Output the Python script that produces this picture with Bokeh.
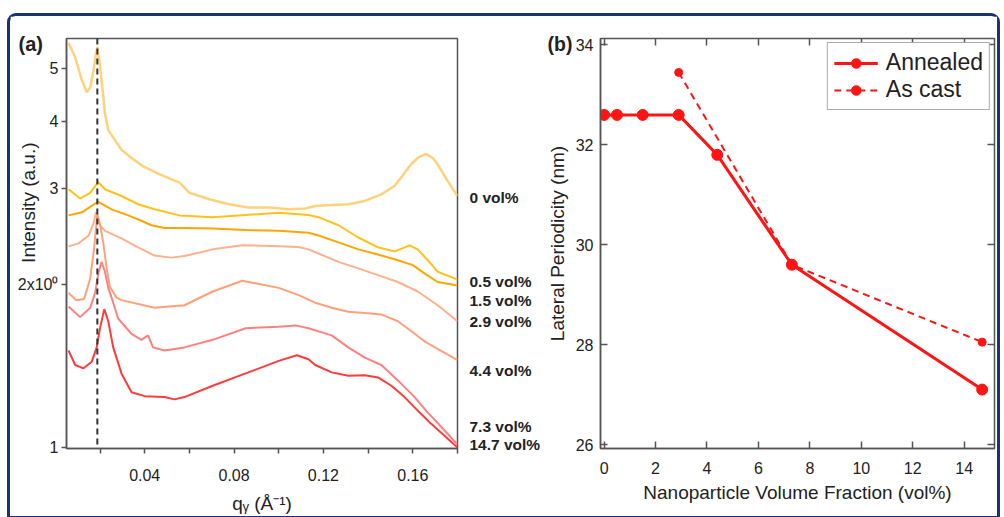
from bokeh.plotting import figure
from bokeh.models import (LinearAxis, LogAxis, FixedTicker, Span, Legend,
                          LegendItem, Range1d, Title)
from bokeh.layouts import row
from bokeh.embed import file_html
from bokeh.resources import INLINE

FONT = "Liberation Sans"

# ---------------- panel (a): intensity vs q_y ----------------
q_0 = [0.0059, 0.0089, 0.0119, 0.0141, 0.0156, 0.0171, 0.0182, 0.0188, 0.0197,
       0.0207, 0.0215, 0.0222, 0.0237, 0.0267, 0.0296, 0.0341, 0.0393, 0.0467,
       0.0556, 0.0600, 0.0689, 0.0778, 0.0867, 0.0956, 0.1044, 0.1119, 0.1163,
       0.1237, 0.1311, 0.1385, 0.1459, 0.1519, 0.1563, 0.1592, 0.1622, 0.1659,
       0.1689, 0.1711, 0.1756, 0.1800]
I_0 = [5.58, 5.24, 4.75, 4.52, 4.62, 4.96, 5.32, 5.48, 5.17,
       4.75, 4.43, 4.13, 3.85, 3.69, 3.54, 3.42, 3.30, 3.19,
       3.08, 2.95, 2.87, 2.81, 2.77, 2.77, 2.75, 2.76, 2.79,
       2.80, 2.81, 2.85, 2.93, 3.04, 3.21, 3.33, 3.42, 3.48,
       3.42, 3.33, 3.10, 2.91]

q_05 = [0.0059, 0.0111, 0.0156, 0.0192, 0.0222, 0.0296, 0.0370, 0.0444, 0.0556,
        0.0704, 0.0852, 0.1000, 0.1133, 0.1178, 0.1267, 0.1356, 0.1444, 0.1519,
        0.1585, 0.1622, 0.1667, 0.1711, 0.1800]
I_05 = [2.995, 2.88, 2.95, 3.09, 2.995, 2.91, 2.81, 2.75, 2.68,
        2.66, 2.685, 2.71, 2.685, 2.66, 2.57, 2.44, 2.34, 2.30,
        2.36, 2.32, 2.215, 2.11, 2.04]

q_15 = [0.0059, 0.0119, 0.0190, 0.0252, 0.0326, 0.0385, 0.0430, 0.0489, 0.0578,
        0.0704, 0.0852, 0.1000, 0.1133, 0.1178, 0.1267, 0.1356, 0.1444, 0.1533,
        0.1600, 0.1652, 0.1711, 0.1800]
I_15 = [2.68, 2.715, 2.84, 2.75, 2.68, 2.62, 2.57, 2.54, 2.54,
        2.535, 2.52, 2.51, 2.49, 2.46, 2.39, 2.32, 2.27, 2.215,
        2.17, 2.095, 2.02, 1.99]

q_29 = [0.0059, 0.0104, 0.0149, 0.0172, 0.0182, 0.0200, 0.0222, 0.0296, 0.0370,
        0.0444, 0.0519, 0.0578, 0.0704, 0.0837, 0.0970, 0.1089, 0.1133, 0.1178,
        0.1267, 0.1356, 0.1444, 0.1533, 0.1622, 0.1711, 0.1800]
I_29 = [2.35, 2.38, 2.46, 2.60, 2.715, 2.57, 2.51, 2.43, 2.34,
        2.26, 2.24, 2.255, 2.32, 2.36, 2.354, 2.344, 2.32, 2.28,
        2.20, 2.14, 2.08, 2.02, 1.94, 1.83, 1.71]

q_44 = [0.0059, 0.0093, 0.0129, 0.0156, 0.0173, 0.0188, 0.0200, 0.0215, 0.0230,
        0.0244, 0.0274, 0.0296, 0.0444, 0.0578, 0.0704, 0.0837, 0.1000, 0.1089,
        0.1163, 0.1237, 0.1311, 0.1385, 0.1459, 0.1533, 0.1592, 0.1652, 0.1711,
        0.1800]
I_44 = [1.93, 1.87, 1.88, 2.05, 2.32, 2.69, 2.58, 2.38, 2.14,
        1.98, 1.89, 1.87, 1.81, 1.83, 1.94, 2.03, 1.97, 1.91,
        1.85, 1.81, 1.78, 1.77, 1.76, 1.71, 1.64, 1.57, 1.52,
        1.45]

q_73 = [0.0059, 0.0111, 0.0156, 0.0178, 0.0193, 0.0207, 0.0222, 0.0237, 0.0259,
        0.0281, 0.0341, 0.0385, 0.0415, 0.0437, 0.0489, 0.0578, 0.0704, 0.0852,
        0.1000, 0.1074, 0.1133, 0.1237, 0.1311, 0.1385, 0.1459, 0.1533, 0.1607,
        0.1667, 0.1711, 0.1800]
I_73 = [1.82, 1.74, 1.81, 1.93, 2.10, 2.20, 2.11, 1.97, 1.85,
        1.73, 1.62, 1.58, 1.61, 1.53, 1.51, 1.53, 1.58, 1.66,
        1.67, 1.68, 1.66, 1.61, 1.53, 1.465, 1.42, 1.33, 1.24,
        1.16, 1.11, 1.013]

q_147 = [0.0059, 0.0089, 0.0126, 0.0163, 0.0185, 0.0200, 0.0219, 0.0237, 0.0259,
         0.0296, 0.0341, 0.0400, 0.0489, 0.0533, 0.0578, 0.0704, 0.0852, 0.1000,
         0.1081, 0.1133, 0.1163, 0.1237, 0.1311, 0.1385, 0.1444, 0.1504, 0.1563,
         0.1622, 0.1681, 0.1800]
I_147 = [1.51, 1.42, 1.40, 1.44, 1.53, 1.66, 1.80, 1.71, 1.53,
         1.37, 1.265, 1.244, 1.239, 1.227, 1.239, 1.30, 1.37, 1.445,
         1.48, 1.455, 1.42, 1.376, 1.357, 1.36, 1.347, 1.30, 1.239,
         1.17, 1.107, 1.00]

series_q = [q_0, q_05, q_15, q_29, q_44, q_73, q_147]
series_I = [I_0, I_05, I_15, I_29, I_44, I_73, I_147]
series_names = ["0 vol%", "0.5 vol%", "1.5 vol%", "2.9 vol%", "4.4 vol%",
                "7.3 vol%", "14.7 vol%"]
series_colors = ["#FFD27A", "#FFC21A", "#FFA500", "#FFB08C", "#FFA07A",
                 "#FF8080", "#FF3B3B"]
series_widths = [2.5, 2, 2, 2, 2, 2, 2]
label_I = [2.89, 2.02, 1.87, 1.705, 1.39, 1.095, 1.011]   # where each name sits
q_peak = 0.0188

q_ticks = [0.04, 0.08, 0.12, 0.16]
q_minor = [0.02, 0.06, 0.10, 0.14, 0.18]
I_ticks = [1, 2, 3, 4, 5]
I_tick_labels = ["1", "2x10\u2070", "3", "4", "5"]

# ---------------- panel (b): periodicity ----------------
vol_annealed = [0, 0.5, 1.5, 2.9, 4.4, 7.3, 14.7]
period_annealed = [32.6, 32.6, 32.6, 32.6, 31.8, 29.6, 27.1]
vol_ascast = [2.9, 7.3, 14.7]
period_ascast = [33.45, 29.6, 28.05]
vol_ticks = [0, 2, 4, 6, 8, 10, 12, 14]
period_ticks = [26, 28, 30, 32, 34]

AXC = "#555555"
TXT = "#222222"
RED = "#FF1414"


def style(p):
    p.xgrid.visible = False
    p.ygrid.visible = False
    p.outline_line_color = AXC
    p.outline_line_width = 1.5
    p.background_fill_color = "white"
    p.border_fill_color = "white"
    for ax in p.axis:
        ax.axis_line_color = AXC
        ax.axis_line_width = 1.5
        ax.major_tick_line_color = AXC
        ax.major_tick_line_width = 1.5
        ax.minor_tick_line_color = AXC
        ax.minor_tick_line_width = 1.5
        ax.major_label_text_font = FONT
        ax.major_label_text_color = TXT
        ax.axis_label_text_font = FONT
        ax.axis_label_text_font_style = "normal"
        ax.axis_label_text_color = TXT


def panel_title(p, text, offset, standoff):
    p.title.text = text
    p.title.align = "left"
    p.title.vertical_align = "bottom"
    p.title.offset = offset
    p.title.standoff = standoff
    p.title.text_font = FONT
    p.title.text_font_size = "20px"
    p.title.text_font_style = "bold"
    p.title.text_color = TXT


# ---------- figure (a) ----------
p1 = figure(width=533, height=500, y_axis_type="log",
            x_range=Range1d(0.005, 0.18), y_range=Range1d(0.996, 5.68),
            output_backend="svg", toolbar_location=None,
            min_border_left=56, min_border_right=83,
            min_border_top=21, min_border_bottom=65)

for qs, Is, c, w in zip(series_q, series_I, series_colors, series_widths):
    p1.line(qs, Is, line_color=c, line_width=w)

p1.add_layout(Span(location=q_peak, dimension="height", line_color="#333333",
                   line_dash="6 4", line_width=2))

vol_axis = LogAxis(ticker=FixedTicker(ticks=label_I, minor_ticks=[]),
                   major_label_overrides=dict(zip(label_I, series_names)))
p1.add_layout(vol_axis, "right")
style(p1)

xa = p1.xaxis[0]
xa.ticker = FixedTicker(ticks=q_ticks, minor_ticks=q_minor)
xa.major_label_overrides = {t: f"{t:.2f}" for t in q_ticks}
xa.major_tick_out = 5
xa.major_tick_in = 0
xa.minor_tick_out = 5
xa.minor_tick_in = 0
xa.major_label_standoff = 15
xa.major_label_text_font_size = "16px"
xa.axis_label = "q\u1d67 (\u00c5\u207b\u00b9)"
xa.axis_label_text_font_size = "19px"
xa.axis_label_standoff = 9

ya = p1.yaxis[0]
ya.ticker = FixedTicker(ticks=I_ticks, minor_ticks=[])
ya.major_label_overrides = dict(zip(I_ticks, I_tick_labels))
ya.major_tick_out = 5
ya.major_tick_in = 0
ya.major_label_standoff = 3
ya.major_label_text_font_size = "16px"

vol_axis.axis_line_color = None
vol_axis.major_tick_line_color = None
vol_axis.major_label_standoff = 6
vol_axis.major_label_text_font_size = "15.5px"
vol_axis.major_label_text_font_style = "bold"

ylab = Title(text="Intensity (a.u.)", align="right", vertical_align="bottom",
             offset=104, standoff=-48, text_font=FONT, text_font_size="19px",
             text_font_style="normal", text_color=TXT)
p1.add_layout(ylab, "left")
panel_title(p1, "(a)", -48, -33)

# ---------- figure (b) ----------
p2 = figure(width=454, height=500,
            x_range=Range1d(-0.14, 15.18), y_range=Range1d(25.92, 34.13),
            output_backend="svg", toolbar_location=None,
            min_border_left=54, min_border_right=3,
            min_border_top=22, min_border_bottom=63)

la = p2.line(vol_annealed, period_annealed, line_color=RED, line_width=3)
ma = p2.scatter(vol_annealed, period_annealed, size=11, fill_color=RED,
                line_color=RED)
lc = p2.line(vol_ascast, period_ascast, line_color=RED, line_width=2,
             line_dash="7 5")
mc = p2.scatter(vol_ascast, period_ascast, size=8, fill_color=RED,
                line_color=RED)

bx = p2.xaxis[0]
bx.ticker = FixedTicker(ticks=vol_ticks, minor_ticks=[])
bx.axis_label = "Nanoparticle Volume Fraction (vol%)"
by = p2.yaxis[0]
by.ticker = FixedTicker(ticks=period_ticks, minor_ticks=[])
by.axis_label = "Lateral Periodicity (nm)"

top = LinearAxis(ticker=FixedTicker(ticks=vol_ticks, minor_ticks=[]))
right = LinearAxis(ticker=FixedTicker(ticks=period_ticks, minor_ticks=[]))
p2.add_layout(top, "above")
p2.add_layout(right, "right")
style(p2)
for ax in p2.axis:
    ax.major_tick_in = 7
    ax.major_tick_out = 0
    ax.major_label_text_font_size = "16px"
    ax.axis_label_text_font_size = "19px"
bx.major_label_standoff = 13
bx.axis_label_standoff = 5
by.major_label_standoff = 7
by.axis_label_standoff = 5
for ax in (top, right):
    ax.axis_line_color = None
    ax.major_label_text_font_size = "0px"
    ax.major_label_text_color = None
    ax.major_label_standoff = 0

legend = Legend(items=[LegendItem(label="Annealed", renderers=[la, ma]),
                       LegendItem(label="As cast", renderers=[lc, mc])],
                location="top_right", margin=4, padding=6, spacing=0,
                glyph_width=44, glyph_height=24, label_standoff=8,
                label_text_font=FONT, label_text_font_size="23px",
                label_text_color=TXT, border_line_color=AXC,
                border_line_width=1.5, background_fill_alpha=1)
p2.add_layout(legend)
panel_title(p2, "(b)", -53, -32)
p2.title.text_font_size = "19.5px"

layout = row(p1, p2, margin=(13, 0, 0, 7),
             styles={"border": "3px solid #1a3372",
                     "border-radius": "9px 9px 0 0"})

with open("out.html", "w") as f:
    f.write(file_html(layout, INLINE))
